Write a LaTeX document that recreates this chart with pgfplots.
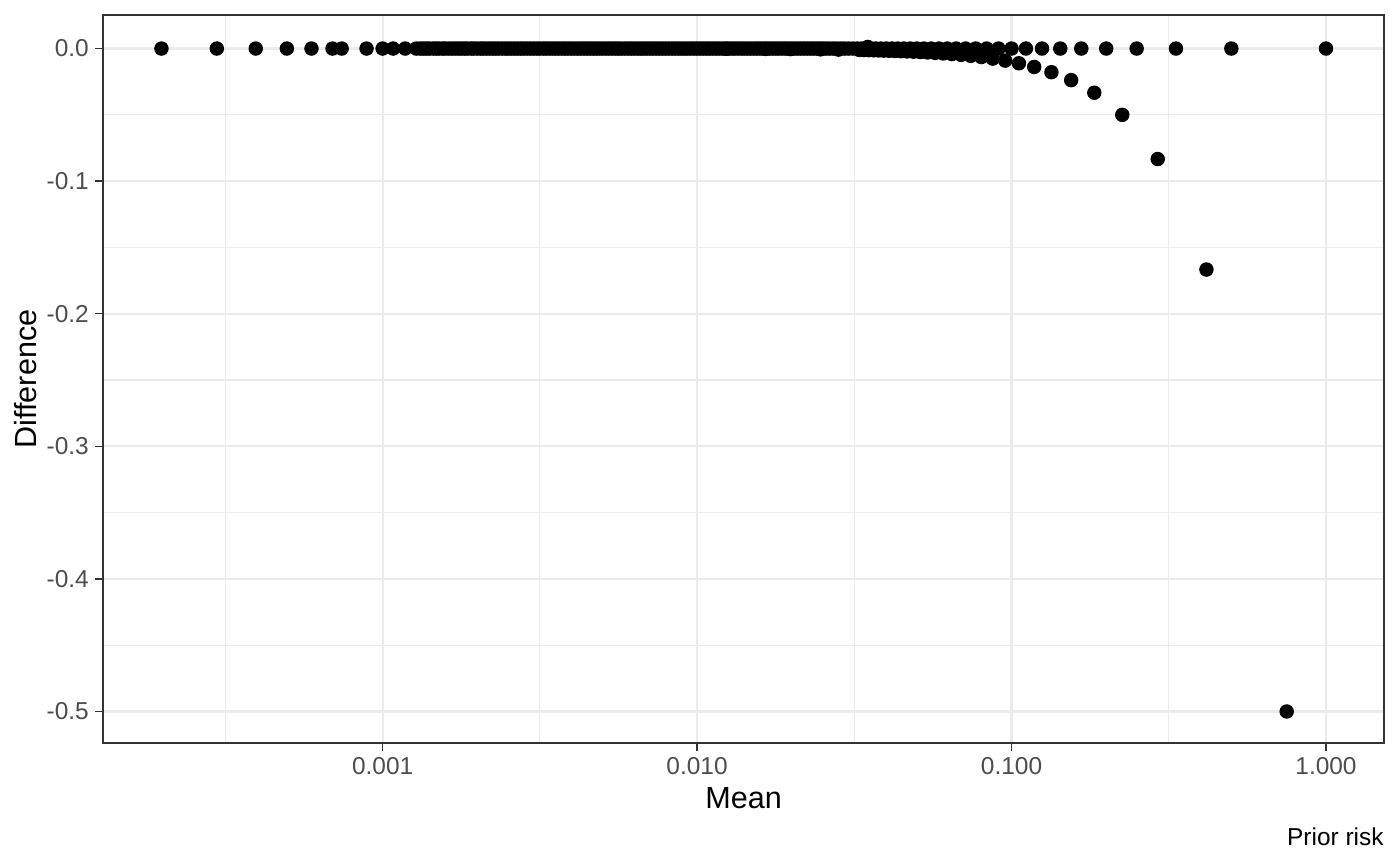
\documentclass[border=0pt]{standalone}
\usepackage{fontspec}
\setmainfont{Liberation Sans}
\usepackage{pgfplots}
\pgfplotsset{compat=1.18}
\definecolor{grid92}{HTML}{EBEBEB}
\definecolor{grey20}{HTML}{333333}
\definecolor{grey30}{HTML}{4D4D4D}
\begin{document}
\begin{tikzpicture}
\path (0,0) rectangle (504pt,311.4pt);
\begin{axis}[
  at={(37.1pt,43.9pt)}, anchor=south west,
  scale only axis, width=461.2pt, height=262.1pt,
  xmode=log, log basis x=10,
  xmin=1.291e-4, xmax=1.531,
  ymin=-0.5238, ymax=0.0253,
  xtick={0.001,0.01,0.1,1}, xticklabels={0.001,0.010,0.100,1.000},
  ytick={-0.5,-0.4,-0.3,-0.2,-0.1,0}, yticklabels={-0.5,-0.4,-0.3,-0.2,-0.1,0.0},
  minor xtick={3.1623e-4,3.1623e-3,3.1623e-2,0.31623},
  minor ytick={-0.45,-0.35,-0.25,-0.15,-0.05},
  grid=both,
  major grid style={color=grid92, line width=0.8pt},
  minor grid style={color=grid92, line width=0.4pt},
  axis line style={color=grey20, line width=0.55pt},
  tick align=outside, xtick pos=bottom, ytick pos=left,
  major tick length=2.75pt, minor tick length=0pt,
  tick style={color=grey20, line width=0.55pt},
  ticklabel style={font=\fontsize{8.8}{10}\selectfont, text=grey30},
  xticklabel style={anchor=north, inner sep=0pt, yshift=-2.2pt},
  yticklabel style={anchor=east, inner sep=0pt, xshift=-2.2pt},
  xlabel={Mean}, ylabel={Difference},
  label style={font=\fontsize{11}{13}\selectfont, text=black},
  xlabel style={at={([yshift=-23.4pt]axis description cs:0.5,0)}, anchor=base},
  ylabel style={at={([xshift=-23.8pt]axis description cs:0,0.5)}, anchor=base},
  clip=false,
]
\addplot[only marks, mark=*, mark size=2.4pt, color=black] coordinates {
(0.000198,0) (0.000297,0) (0.000395,0) (0.000496,0) (0.000594,0) (0.000693,0) (0.000741,0) (0.000889,0) (0.001,0) (0.00108,0) (0.00118,0) (0.00128,0)
(0.00132,0) (0.00138,0) (0.00145,0) (0.00151,0) (0.00158,0) (0.00166,0) (0.00174,0) (0.00182,0) (0.00191,0) (0.002,0) (0.00209,0) (0.00219,0) (0.00229,0) (0.0024,0) (0.00251,0) (0.00263,0) (0.00275,0) (0.00288,0) (0.00302,0) (0.00316,0) (0.00331,0) (0.00347,0) (0.00363,0) (0.0038,0) (0.00398,0) (0.00417,0) (0.00437,0) (0.00457,0) (0.00479,0) (0.00501,0) (0.00525,0) (0.0055,0) (0.00575,0) (0.00603,0) (0.00631,0) (0.00661,0) (0.00692,0) (0.00724,0) (0.00759,0) (0.00794,0) (0.00832,0) (0.00871,0) (0.00912,0) (0.00955,0)
(0.01,0) (0.01047,0) (0.01096,0) (0.01148,0) (0.01202,0) (0.01259,0) (0.01318,0) (0.01381,0) (0.01446,0) (0.01514,0) (0.01585,0) (0.0166,0) (0.01738,0) (0.0182,0) (0.01906,0) (0.01996,0) (0.0209,0) (0.02189,0) (0.02292,0) (0.024,0)
(0.00135,0) (0.00141,0) (0.00148,0) (0.00155,0) (0.00162,0) (0.0017,0) (0.00178,0) (0.00186,0) (0.00195,0) (0.00205,0) (0.00214,0) (0.00224,0) (0.00234,0) (0.00246,0) (0.00257,0) (0.00269,0) (0.00281,0) (0.00295,0) (0.00309,0) (0.00324,0) (0.00339,0) (0.00355,0) (0.00372,0) (0.00389,0) (0.00407,0) (0.00427,0) (0.00447,0) (0.00468,0) (0.0049,0) (0.00513,0) (0.00537,0) (0.00562,0) (0.00589,0) (0.00617,0) (0.00646,0) (0.00676,0) (0.00708,0) (0.00741,0) (0.00776,0) (0.00813,0) (0.00851,0) (0.00891,0) (0.00933,0) (0.00977,0)
(0.01023,0) (0.01072,0) (0.01122,0) (0.01175,0) (0.0123,0) (0.01288,0) (0.01349,0) (0.01413,0) (0.01479,0) (0.01549,0) (0.01622,0) (0.01698,0) (0.01778,0) (0.01862,0) (0.0195,0) (0.02042,0) (0.02138,0) (0.02239,0) (0.02344,0) (0.02455,0)
(0.025,0) (0.02564,0) (0.02632,0) (0.02703,0) (0.02778,0) (0.02857,0) (0.02941,0) (0.0303,0) (0.03125,0) (0.03226,0) (0.03333,0) (0.03448,0) (0.03571,0) (0.03704,0) (0.03846,0) (0.04,0) (0.04167,0) (0.04348,0) (0.04545,0) (0.04762,0) (0.05,0) (0.05263,0) (0.05556,0) (0.05882,0) (0.0625,0) (0.06667,0) (0.07143,0) (0.07692,0) (0.08333,0) (0.09091,0)
(0.1,0) (0.1111,0) (0.125,0) (0.1429,0) (0.1667,0) (0.2,0) (0.25,0) (0.3333,0) (0.5,0) (1.0,0)
(0.0349,0.0012)
};
\addplot[only marks, mark=*, mark size=2.4pt, color=black] coordinates {
(0.75,-0.5) (0.41667,-0.16667) (0.29167,-0.08333) (0.225,-0.05) (0.18333,-0.03333) (0.15476,-0.02381) (0.13393,-0.01786) (0.11806,-0.01389) (0.10556,-0.01111) (0.09545,-0.00909)
(0.08712,-0.00758) (0.08013,-0.00641) (0.07418,-0.00549) (0.06905,-0.00476) (0.06458,-0.00417) (0.06066,-0.00368) (0.05719,-0.00327) (0.05409,-0.00292) (0.05132,-0.00263) (0.04881,-0.00238)
(0.04656,-0.00216) (0.04447,-0.00198) (0.04255,-0.00181) (0.04083,-0.00167) (0.03922,-0.00154) (0.03775,-0.00142) (0.03639,-0.00132) (0.0351,-0.00123) (0.03392,-0.00115) (0.0328,-0.00108) (0.02817,-0.00079) (0.0247,-0.00061) (0.0198,-0.00039) (0.0165,-0.00027) (0.0124,-0.00015)
};
\node[anchor=base east, font=\fontsize{8.8}{10}\selectfont, text=black, inner sep=0pt] at ([yshift=-36.7pt]axis description cs:1,0) {Prior risk};
\end{axis}
\end{tikzpicture}
\end{document}
